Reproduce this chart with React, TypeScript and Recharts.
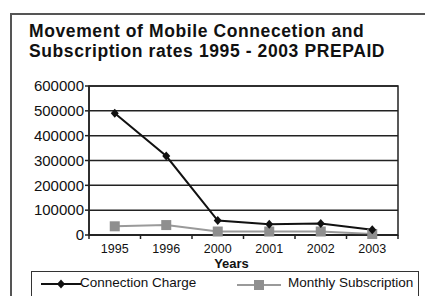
import { ComposedChart, Line, XAxis, YAxis, CartesianGrid, ReferenceArea } from "recharts";

const years = ["1995", "1996", "2000", "2001", "2002", "2003"];
const connectionCharge = [490000, 318000, 58000, 43000, 46000, 21000];
const monthlySubscription = [35000, 40000, 14000, 14000, 14000, 4000];
const yTicks = [0, 100000, 200000, 300000, 400000, 500000, 600000];

const W = 425;
const H = 296;
const MARGIN = { top: 86, right: 27, bottom: 25, left: 0 };
const Y_AXIS_W = 89;
const X_AXIS_H = 36;
const PLOT_W = W - MARGIN.left - MARGIN.right - Y_AXIS_W;
const PLOT_BOTTOM = H - MARGIN.bottom - X_AXIS_H;
const FONT = "'Liberation Sans', Arial, sans-serif";

const data = years.map((y, i) => ({
  year: y,
  connection: connectionCharge[i],
  monthly: monthlySubscription[i],
}));

function Diamond({ cx, cy }: any) {
  if (cx == null || cy == null) return null;
  return <polygon points={`${cx},${cy - 4.5} ${cx + 4},${cy} ${cx},${cy + 4.5} ${cx - 4},${cy}`} fill="#111" />;
}

function Square({ cx, cy }: any) {
  if (cx == null || cy == null) return null;
  return <rect x={cx - 5} y={cy - 5} width={10} height={10} fill="#8f8f8f" />;
}

function YearTick({ x, payload, index }: any) {
  const band = PLOT_W / years.length;
  return (
    <g>
      {index === 0 && <line x1={x - band / 2} x2={x - band / 2} y1={PLOT_BOTTOM} y2={PLOT_BOTTOM + 4} stroke="#222" strokeWidth={1.5} />}
      <line x1={x + band / 2} x2={x + band / 2} y1={PLOT_BOTTOM} y2={PLOT_BOTTOM + 4} stroke="#222" strokeWidth={1.5} />
      <text x={x} y={PLOT_BOTTOM + 18} textAnchor="middle" fontSize={12.5} fill="#111" fontFamily={FONT}>
        {payload.value}
      </text>
    </g>
  );
}

function YearsLabel({ viewBox }: any) {
  const cx = viewBox.x + viewBox.width / 2 - 12;
  return (
    <text x={cx} y={PLOT_BOTTOM + 33} textAnchor="middle" fontSize={13} fontWeight="bold" fill="#111" fontFamily={FONT}>
      Years
    </text>
  );
}

export default function App() {
  return (
    <div style={{ position: "absolute", left: 0, top: 0, width: W, height: H, overflow: "hidden", background: "#fff", fontFamily: FONT }}>
      <div style={{ position: "absolute", left: 10, top: 13, width: 440, height: 300, borderLeft: "2px solid #555", borderTop: "2px solid #555" }} />
      <div style={{ position: "absolute", left: 29, top: 20.5, fontSize: 17.5, lineHeight: "20.5px", letterSpacing: 0.6, fontWeight: "bold", color: "#111", whiteSpace: "nowrap" }}>
        Movement of Mobile Connecetion and
        <br />
        Subscription rates 1995 - 2003 PREPAID
      </div>
      <div style={{ position: "absolute", left: 0, top: 0 }}>
        <ComposedChart width={W} height={H} data={data} margin={MARGIN}>
          <CartesianGrid vertical={false} stroke="#222" strokeWidth={1.5} />
          <ReferenceArea y1={0} y2={600000} fill="none" stroke="#222" strokeWidth={1.5} ifOverflow="visible" />
          <XAxis
            dataKey="year"
            scale="band"
            height={X_AXIS_H}
            tickLine={false}
            axisLine={{ stroke: "#222", strokeWidth: 1.5 }}
            tick={<YearTick />}
            interval={0}
            label={<YearsLabel />}
          />
          <YAxis
            width={Y_AXIS_W}
            domain={[0, 600000]}
            ticks={yTicks}
            tickSize={4}
            tickMargin={1}
            axisLine={{ stroke: "#222", strokeWidth: 1.5 }}
            tickLine={{ stroke: "#222", strokeWidth: 1.5 }}
            tick={{ fontSize: 15, fill: "#111", fontFamily: FONT }}
          />
          <Line dataKey="monthly" stroke="#9a9a9a" strokeWidth={2} dot={<Square />} activeDot={false} isAnimationActive={false} />
          <Line dataKey="connection" stroke="#111" strokeWidth={2} dot={<Diamond />} activeDot={false} isAnimationActive={false} />
        </ComposedChart>
      </div>
      <div style={{ position: "absolute", left: 31, top: 271, width: 386, height: 40, border: "1.5px solid #333", fontSize: 13.5, color: "#111" }}>
        <svg width={40} height={12} style={{ position: "absolute", left: 9, top: 6 }}>
          <line x1={0} x2={40} y1={6} y2={6} stroke="#111" strokeWidth={2} />
          <polygon points="20,1.5 24,6 20,10.5 16,6" fill="#111" />
        </svg>
        <span style={{ position: "absolute", left: 48, top: 3, whiteSpace: "nowrap" }}>Connection Charge</span>
        <svg width={44} height={12} style={{ position: "absolute", left: 205, top: 7 }}>
          <line x1={0} x2={44} y1={6} y2={6} stroke="#9a9a9a" strokeWidth={2} />
          <rect x={17} y={1} width={10} height={10} fill="#8f8f8f" />
        </svg>
        <span style={{ position: "absolute", left: 256, top: 3, whiteSpace: "nowrap" }}>Monthly Subscription</span>
      </div>
    </div>
  );
}
